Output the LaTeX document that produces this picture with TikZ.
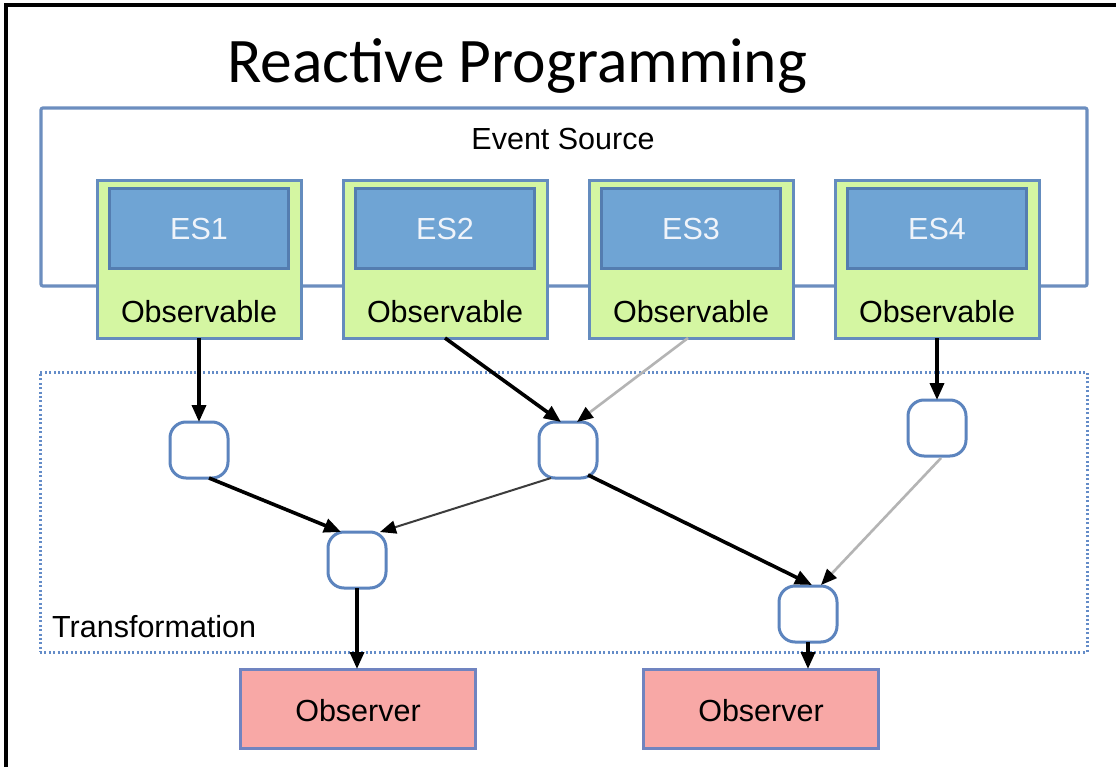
\documentclass[tikz,border=0pt]{standalone}
\usepackage{fontspec}
\setmainfont{Liberation Sans}
\newfontfamily\titlefont{Carlito}
\usetikzlibrary{arrows.meta,calc}

\definecolor{srcline}{RGB}{108,142,191}
\definecolor{esfill}{RGB}{111,164,212}
\definecolor{esline}{RGB}{84,125,176}
\definecolor{obsfill}{RGB}{212,246,162}
\definecolor{obsline}{RGB}{100,140,190}
\definecolor{obrfill}{RGB}{248,168,166}
\definecolor{obrline}{RGB}{112,132,192}
\definecolor{opline}{RGB}{92,132,190}
\definecolor{dotline}{RGB}{100,140,200}
\definecolor{lightarrow}{RGB}{180,180,180}
\definecolor{midarrow}{RGB}{60,60,60}
\definecolor{estext}{RGB}{240,244,250}

\tikzset{
  lbl/.style={font=\fontsize{30.5}{34}\selectfont, inner sep=0pt, anchor=base},
  srcbox/.style={draw=srcline, line width=3.2pt, fill=white, rounded corners=2pt,
    inner sep=0pt, outer sep=0pt, minimum width=1046pt, minimum height=178pt},
  trbox/.style={draw=dotline, line width=3pt, dash pattern=on 2pt off 2.4pt,
    inner sep=0pt, outer sep=0pt, minimum width=1047pt, minimum height=280pt},
  obsbox/.style={draw=obsline, line width=3pt, fill=obsfill,
    inner sep=0pt, outer sep=0pt, minimum width=204pt, minimum height=157pt},
  esbox/.style={draw=esline, line width=3pt, fill=esfill,
    inner sep=0pt, outer sep=0pt, minimum width=179pt, minimum height=80pt},
  opbox/.style={draw=opline, line width=3pt, fill=white, rounded corners=16pt,
    inner sep=0pt, outer sep=0pt, minimum width=58pt, minimum height=56pt},
  obrbox/.style={draw=obrline, line width=3pt, fill=obrfill,
    inner sep=0pt, outer sep=0pt, minimum width=235pt, minimum height=79pt},
  flow/.style={line width=3.6pt, black, -{Triangle[length=17pt,width=14pt]}},
  faint/.style={line width=2.6pt, lightarrow, -{Triangle[length=16pt,width=13pt,color=black]}},
  thin/.style={line width=2pt, midarrow, -{Triangle[length=16pt,width=13pt,color=black]}},
}

\begin{document}
\begin{tikzpicture}[x=1pt,y=-1pt]
  \useasboundingbox (0,0) rectangle (1116,767);
  \fill[white] (0,0) rectangle (1116,767);

  % page frame (left and top edges)
  \draw[line width=3.4pt, black] (6,767) -- (6,5) -- (1116,5);

  % title
  \node[inner sep=0pt, anchor=base, font=\titlefont\fontsize{63.5}{70}\selectfont]
    (title) at (517,83) {Reactive Programming};

  % event source container
  \node[srcbox] (src) at (564,197) {};
  \node[lbl] (srclbl) at (563,150) {Event Source};

  % transformation area
  \node[trbox] (tr) at (563.5,512) {};
  \node[lbl, anchor=base west] (trlbl) at (52,637) {Transformation};

  % observables with their event sources
  \foreach \i/\x in {1/199, 2/445, 3/691, 4/937} {
    \node[obsbox] (o\i) at (\x,259.5) {};
    \node[esbox] (es\i) at (\x,228.5) {};
    \node[lbl, text=estext] (esl\i) at (\x,240) {ES\i};
    \node[lbl] (ol\i) at (\x,322) {Observable};
  }

  % transformation steps
  \node[opbox] (n1) at (199,450) {};
  \node[opbox] (n2) at (568,450) {};
  \node[opbox] (n3) at (937,428) {};
  \node[opbox] (n4) at (357,560) {};
  \node[opbox] (n5) at (808,614) {};

  % observers
  \node[obrbox] (r1) at (358,708.5) {};
  \node[lbl] (rl1) at (358,721) {Observer};
  \node[obrbox] (r2) at (761,708.5) {};
  \node[lbl] (rl2) at (761,721) {Observer};

  % data flow
  \draw[flow] (o1.south) -- (n1.north);
  \draw[flow] (o2.south) -- ($(n2.north)+(-7,0)$);
  \draw[faint] ($(o3.south)+(-3,0)$) -- ($(n2.north)+(9,0)$);
  \draw[flow] (o4.south) -- (n3.north);

  \draw[flow] ($(n1.south)+(10,0)$) -- ($(n4.north)+(-16,0)$);
  \draw[thin] ($(n2.south)+(-17,0)$) -- ($(n4.north)+(23,0)$);
  \draw[flow] ($(n2.south)+(20,-3)$) -- ($(n5.north)+(4,-1)$);
  \draw[faint] ($(n3.south)+(4,2)$) -- ($(n5.north)+(13,-1)$);

  \draw[flow] (n4.south) -- (n4.south |- r1.north);
  \draw[flow] (n5.south) -- (n5.south |- r2.north);
\end{tikzpicture}
\end{document}
